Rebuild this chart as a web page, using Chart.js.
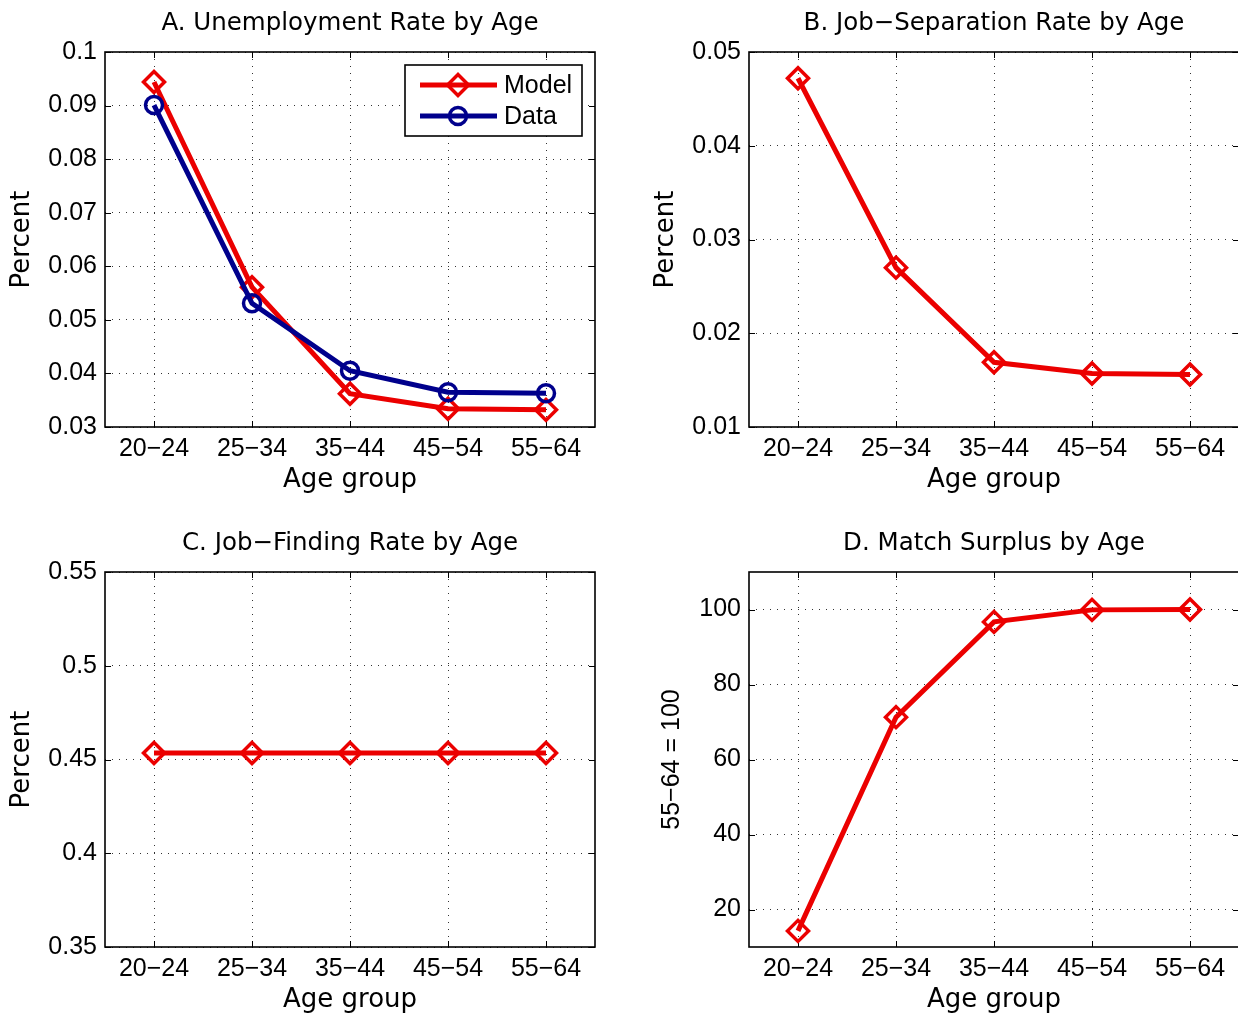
<!DOCTYPE html>
<html>
<head>
<meta charset="utf-8">
<title>Labour market by age</title>
<script src="https://cdn.jsdelivr.net/npm/chart.js@4.4.0/dist/chart.umd.min.js"></script>
<style>
  body { margin: 0; background: #fff; overflow: hidden; width: 1238px; height: 1015px; position: relative; }
  canvas { position: absolute; }
</style>
</head>
<body>
<canvas id="panelA" width="620" height="510" style="left:0;top:0"></canvas>
<canvas id="panelB" width="620" height="510" style="left:644px;top:0"></canvas>
<canvas id="panelC" width="620" height="510" style="left:0;top:520px"></canvas>
<canvas id="panelD" width="620" height="510" style="left:644px;top:520px"></canvas>
<script>
const ageGroups = ["20−24", "25−34", "35−44", "45−54", "55−64"];

// panel values
const unempModel = [0.0944, 0.0561, 0.0362, 0.0334, 0.0332];
const unempData = [0.0901, 0.0531, 0.0405, 0.0365, 0.0363];
const separationModel = [0.0472, 0.0270, 0.0169, 0.0157, 0.0156];
const findingModel = [0.4535, 0.4535, 0.4535, 0.4535, 0.4535];
const surplusModel = [14.3, 71.3, 96.7, 99.9, 100];

// y tick marks per panel
const unempTicks = [0.03, 0.04, 0.05, 0.06, 0.07, 0.08, 0.09, 0.1];
const separationTicks = [0.01, 0.02, 0.03, 0.04, 0.05];
const findingTicks = [0.35, 0.4, 0.45, 0.5, 0.55];
const surplusTicks = [20, 40, 60, 80, 100];

const red = "rgb(235,0,0)";
const navy = "rgb(0,0,140)";
const tickFont = { family: "'Liberation Sans', Arial, sans-serif", size: 25 };
const labelFont = { family: "'DejaVu Sans', sans-serif", size: 26 };
const titleFont = { family: "'DejaVu Sans', sans-serif", size: 24.5, weight: "normal" };

const series = (label, values, color, marker, order) => ({
  label: label,
  data: values,
  borderColor: color,
  backgroundColor: color,
  borderWidth: 5,
  tension: 0,
  pointStyle: marker,
  pointRadius: marker === "circle" ? 8.5 : 10.5,
  pointHoverRadius: marker === "circle" ? 8.5 : 10.5,
  pointBorderWidth: 3.5,
  pointBorderColor: color,
  pointBackgroundColor: "rgba(0,0,0,0)",
  order: order
});

// full box around the plot with short inward ticks on every side
const boxPlugin = {
  id: "box",
  beforeDatasetsDraw(chart) {
    const { ctx, chartArea: a, scales } = chart;
    ctx.save();
    ctx.strokeStyle = "#000";
    ctx.lineWidth = 1;
    ctx.beginPath();
    scales.y.ticks.forEach(t => {
      const y = Math.round(scales.y.getPixelForValue(t.value)) + 0.5;
      ctx.moveTo(a.left, y); ctx.lineTo(a.left + 6, y);
      ctx.moveTo(a.right, y); ctx.lineTo(a.right - 6, y);
    });
    scales.x.ticks.forEach((t, i) => {
      const x = Math.round(scales.x.getPixelForTick(i)) + 0.5;
      ctx.moveTo(x, a.top); ctx.lineTo(x, a.top + 6);
      ctx.moveTo(x, a.bottom); ctx.lineTo(x, a.bottom - 6);
    });
    ctx.stroke();
    ctx.lineWidth = 1.6;
    ctx.strokeRect(a.left, a.top, a.right - a.left, a.bottom - a.top);
    ctx.restore();
  }
};

// boxed legend in the upper right corner, line sample with marker
const boxLegend = {
  id: "boxLegend",
  afterDraw(chart, args, opts) {
    if (!opts.show) return;
    const { ctx, chartArea: a } = chart;
    const w = 177, h = 71;
    const left = a.right - 190, top = a.top + 13;
    ctx.save();
    ctx.fillStyle = "#fff";
    ctx.fillRect(left, top, w, h);
    ctx.strokeStyle = "#000";
    ctx.lineWidth = 1.6;
    ctx.strokeRect(left, top, w, h);
    chart.data.datasets.forEach((ds, i) => {
      const y = top + 20 + i * 31;
      ctx.strokeStyle = ds.borderColor;
      ctx.lineWidth = ds.borderWidth;
      ctx.beginPath();
      ctx.moveTo(left + 15, y);
      ctx.lineTo(left + 92, y);
      ctx.stroke();
      ctx.lineWidth = ds.pointBorderWidth;
      ctx.fillStyle = "rgba(0,0,0,0)";
      Chart.helpers.drawPoint(ctx, { pointStyle: ds.pointStyle, radius: ds.pointRadius, rotation: 0, borderWidth: ds.pointBorderWidth }, left + 53, y);
      ctx.fillStyle = "#000";
      ctx.font = "25px 'Liberation Sans', Arial, sans-serif";
      ctx.textBaseline = "middle";
      ctx.fillText(ds.label, left + 99, y + 1);
    });
    ctx.restore();
  }
};

const makePanel = (id, title, yTitle, yTitleFont, yTitlePad, yMin, yMax, yTicks, datasets, legend) => {
  const ctx = document.getElementById(id).getContext("2d");
  return new Chart(ctx, {
    type: "line",
    data: { labels: ageGroups, datasets: datasets },
    plugins: [boxPlugin, boxLegend],
    options: {
      responsive: false,
      animation: false,
      events: [],
      layout: { padding: { left: 0, right: 25, top: 0, bottom: 0 } },
      plugins: {
        legend: { display: false },
        tooltip: { enabled: false },
        title: {
          display: true,
          text: title,
          color: "#000",
          font: titleFont,
          fullSize: false,
          padding: { top: 9.3, bottom: 13.3 }
        },
        boxLegend: { show: legend }
      },
      scales: {
        x: {
          type: "category",
          offset: true,
          grid: { color: "#333", lineWidth: 1, drawTicks: false, offset: false },
          border: { display: false, dash: [1, 6] },
          ticks: { color: "#000", font: tickFont, padding: 7, maxRotation: 0, autoSkip: false },
          title: { display: true, text: "Age group", color: "#000", font: labelFont, padding: { top: 0, bottom: 14.4 } },
          afterFit: s => { s.height = 83; }
        },
        y: {
          min: yMin,
          max: yMax,
          afterBuildTicks: s => { s.ticks = yTicks.map(v => ({ value: v })); },
          grid: { color: "#333", lineWidth: 1, drawTicks: false },
          border: { display: false, dash: [1, 6] },
          ticks: {
            color: "#000",
            font: tickFont,
            padding: 8,
            callback: v => String(+v.toFixed(3))
          },
          title: { display: true, text: yTitle, color: "#000", font: yTitleFont, padding: { top: yTitlePad, bottom: 0 } },
          afterFit: s => { s.width = 105; }
        }
      }
    }
  });
};

makePanel("panelA", "A. Unemployment Rate by Age", "Percent", labelFont, 6.4, 0.03, 0.1, unempTicks, [
  series("Model", unempModel, red, "rectRot", 1),
  series("Data", unempData, navy, "circle", 0)
], true);

makePanel("panelB", "B. Job−Separation Rate by Age", "Percent", labelFont, 6.4, 0.01, 0.05, separationTicks, [
  series("Model", separationModel, red, "rectRot", 0)
], false);

makePanel("panelC", "C. Job−Finding Rate by Age", "Percent", labelFont, 6.4, 0.35, 0.55, findingTicks, [
  series("Model", findingModel, red, "rectRot", 0)
], false);

makePanel("panelD", "D. Match Surplus by Age", "55−64 = 100", tickFont, 13, 10, 110, surplusTicks, [
  series("Model", surplusModel, red, "rectRot", 0)
], false);
</script>
</body>
</html>
